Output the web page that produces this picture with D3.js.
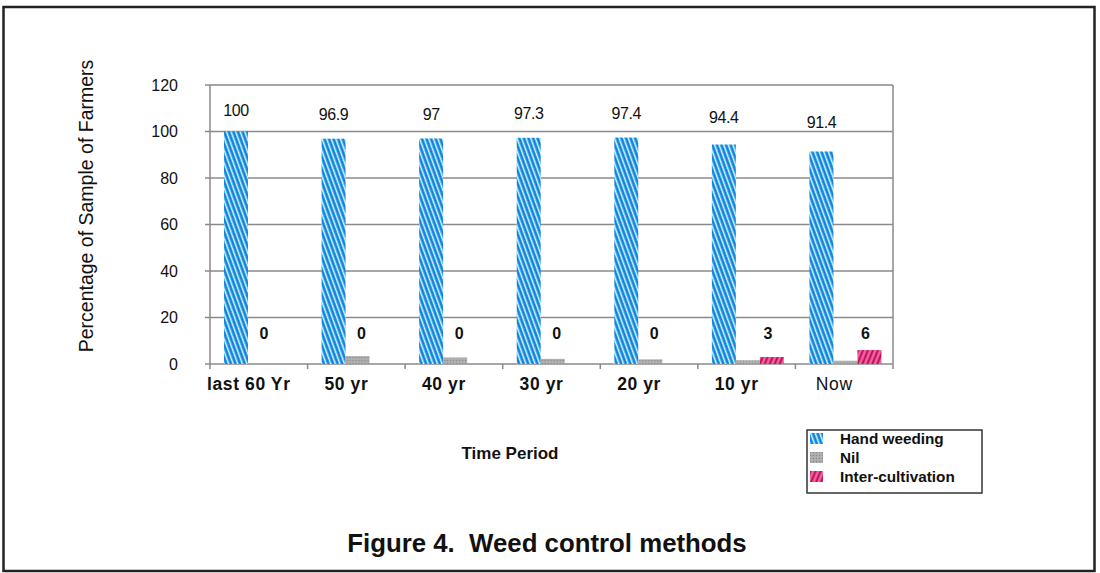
<!DOCTYPE html>
<html>
<head>
<meta charset="utf-8">
<script src="https://cdn.jsdelivr.net/npm/d3@7"></script>
<style>
  html, body { margin: 0; padding: 0; background: #fff; }
  svg { display: block; font-family: "Liberation Sans", Arial, Helvetica, sans-serif; }
</style>
</head>
<body>
<svg id="chart" width="1100" height="573"></svg>
<script>
// ---- data ----
const categories = ["last 60 Yr", "50 yr", "40 yr", "30 yr", "20 yr", "10 yr", "Now"];
const seriesNames = ["Hand weeding", "Nil", "Inter-cultivation"];
const handWeeding = [100, 96.9, 97, 97.3, 97.4, 94.4, 91.4];
const nil = [0, 3.4, 2.8, 2.2, 2.0, 1.6, 1.4];
const interCultivation = [0, 0, 0, 0, 0, 3, 6];
const handLabels = ["100", "96.9", "97", "97.3", "97.4", "94.4", "91.4"];
const interLabels = ["0", "0", "0", "0", "0", "3", "6"];
const yTicks = [0, 20, 40, 60, 80, 100, 120];

const seriesValues = [handWeeding, nil, interCultivation];

// ---- layout ----
const svg = d3.select("#chart");
const plot = { left: 210, right: 893, top: 85, bottom: 364 };

const x0 = d3.scaleBand().domain(categories).range([plot.left, plot.right]).paddingInner(0).paddingOuter(0);
const x1 = d3.scaleBand().domain(seriesNames).range([14, 86]).padding(0);
const y = d3.scaleLinear().domain([0, 120]).range([plot.bottom, plot.top]);

// ---- patterns ----
const defs = svg.append("defs");
function stripePattern(id, base, stripes, angle, period) {
  const p = defs.append("pattern").attr("id", id)
    .attr("patternUnits", "userSpaceOnUse")
    .attr("width", period).attr("height", 20)
    .attr("patternTransform", `rotate(${angle})`);
  p.append("rect").attr("width", period).attr("height", 20).attr("fill", base);
  stripes.forEach(s => p.append("rect").attr("x", s.x).attr("y", 0).attr("width", s.w).attr("height", 20).attr("fill", s.c).attr("opacity", s.o || 1));
}
stripePattern("pat-hw", "#35aef0", [{x: 0, w: 1.1, c: "#ffffff", o: 0.85}, {x: 2.1, w: 1.3, c: "#1672cc"}], -20, 4.3);
stripePattern("pat-ic", "#ea3a88", [{x: 0, w: 1.3, c: "#a8104f"}, {x: 2.4, w: 0.9, c: "#f7a0c8", o: 0.8}], 22, 4.6);
const pg = defs.append("pattern").attr("id", "pat-nil").attr("patternUnits", "userSpaceOnUse").attr("width", 3).attr("height", 3);
pg.append("rect").attr("width", 3).attr("height", 3).attr("fill", "#aaaaaa");
pg.append("rect").attr("x", 0).attr("y", 0).attr("width", 1).attr("height", 1).attr("fill", "#8a8a8a");
pg.append("rect").attr("x", 1.5).attr("y", 1.5).attr("width", 1).attr("height", 1).attr("fill", "#c4c4c4");
const fills = ["url(#pat-hw)", "url(#pat-nil)", "url(#pat-ic)"];

// ---- outer frame ----
svg.append("rect").attr("x", 3.5).attr("y", 7).attr("width", 1091).attr("height", 564)
  .attr("fill", "none").attr("stroke", "#222").attr("stroke-width", 2.5);

// ---- grid + y axis ----
const yAxis = d3.axisLeft(y).tickValues(yTicks).tickSize(0).tickPadding(32);
const gy = svg.append("g").attr("transform", `translate(${plot.left},0)`).call(yAxis);
gy.select(".domain").remove();
gy.selectAll("text").attr("font-size", 16).attr("fill", "#111").attr("font-family", "Liberation Sans, Arial, sans-serif");

svg.append("g").selectAll("line").data(yTicks).join("line")
  .attr("x1", plot.left - 5).attr("x2", plot.right)
  .attr("y1", d => y(d)).attr("y2", d => y(d))
  .attr("stroke", "#8a8a8a").attr("stroke-width", 1.5);

// plot frame right side & left axis
svg.append("line").attr("x1", plot.right).attr("x2", plot.right).attr("y1", plot.top).attr("y2", plot.bottom)
  .attr("stroke", "#8a8a8a").attr("stroke-width", 1.5);
svg.append("line").attr("x1", plot.left).attr("x2", plot.left).attr("y1", plot.top).attr("y2", plot.bottom + 5)
  .attr("stroke", "#8a8a8a").attr("stroke-width", 1.5);

// category boundary ticks
svg.append("g").selectAll("line").data(categories.slice(1).concat(["__end"])).join("line")
  .attr("x1", d => d === "__end" ? plot.right : x0(d))
  .attr("x2", d => d === "__end" ? plot.right : x0(d))
  .attr("y1", plot.bottom).attr("y2", plot.bottom + 5)
  .attr("stroke", "#8a8a8a").attr("stroke-width", 1.5);

// ---- bars ----
const groups = svg.append("g").selectAll("g").data(categories).join("g")
  .attr("transform", d => `translate(${x0(d)},0)`);
groups.selectAll("rect").data((d, i) => seriesNames.map((s, k) => ({ s, k, v: seriesValues[k][i] })))
  .join("rect")
  .attr("x", d => x1(d.s))
  .attr("width", x1.bandwidth())
  .attr("y", d => y(d.v))
  .attr("height", d => y(0) - y(d.v))
  .attr("fill", d => fills[d.k]);

// ---- value labels ----
groups.append("text")
  .attr("x", x1("Hand weeding") + x1.bandwidth() / 2)
  .attr("y", (d, i) => y(handWeeding[i]) - 16 - (100 - handWeeding[i]) * 0.9)
  .attr("text-anchor", "middle").attr("font-size", 16).attr("fill", "#111")
  .attr("letter-spacing", -0.4)
  .text((d, i) => handLabels[i]);

groups.append("text")
  .attr("x", (d, i) => x1("Inter-cultivation") + x1.bandwidth() / 2 - (interCultivation[i] === 0 ? 20 : 4))
  .attr("y", y(0) - 25)
  .attr("text-anchor", "middle").attr("font-size", 16).attr("font-weight", "bold").attr("fill", "#111")
  .text((d, i) => interLabels[i]);

// ---- x axis labels ----
const xAxis = d3.axisBottom(x0).tickSize(0).tickPadding(14);
const gx = svg.append("g").attr("transform", `translate(0,${plot.bottom})`).call(xAxis);
gx.select(".domain").remove();
gx.selectAll("text").attr("font-size", 17.5).attr("fill", "#111")
  .attr("font-family", "Liberation Sans, Arial, sans-serif").attr("dx", -10)
  .attr("letter-spacing", 0.6)
  .attr("font-weight", d => d === "Now" ? "normal" : "bold");

// ---- axis titles ----
svg.append("text").attr("transform", "translate(93,206) rotate(-90)")
  .attr("text-anchor", "middle").attr("font-size", 19.5).attr("fill", "#111")
  .text("Percentage of Sample of Farmers");

svg.append("text").attr("x", 510).attr("y", 459)
  .attr("text-anchor", "middle").attr("font-size", 17).attr("font-weight", "bold").attr("fill", "#111")
  .text("Time Period");

// ---- legend ----
const lg = svg.append("g");
lg.append("rect").attr("x", 807).attr("y", 430).attr("width", 175).attr("height", 63)
  .attr("fill", "#fff").attr("stroke", "#333").attr("stroke-width", 1.5);
const items = lg.selectAll("g").data(seriesNames).join("g")
  .attr("transform", (d, i) => `translate(810,${433 + i * 19})`);
items.append("rect").attr("width", 13).attr("height", 11).attr("fill", (d, i) => fills[i]);
items.append("text").attr("x", 30).attr("y", 11).attr("font-size", 15.3).attr("font-weight", "bold").attr("fill", "#111")
  .text(d => d);

// ---- figure title ----
svg.append("text").attr("x", 547).attr("y", 552).attr("text-anchor", "middle")
  .attr("font-size", 25.8).attr("font-weight", "bold").attr("fill", "#111")
  .style("white-space", "pre")
  .text("Figure 4.  Weed control methods");
</script>
</body>
</html>
